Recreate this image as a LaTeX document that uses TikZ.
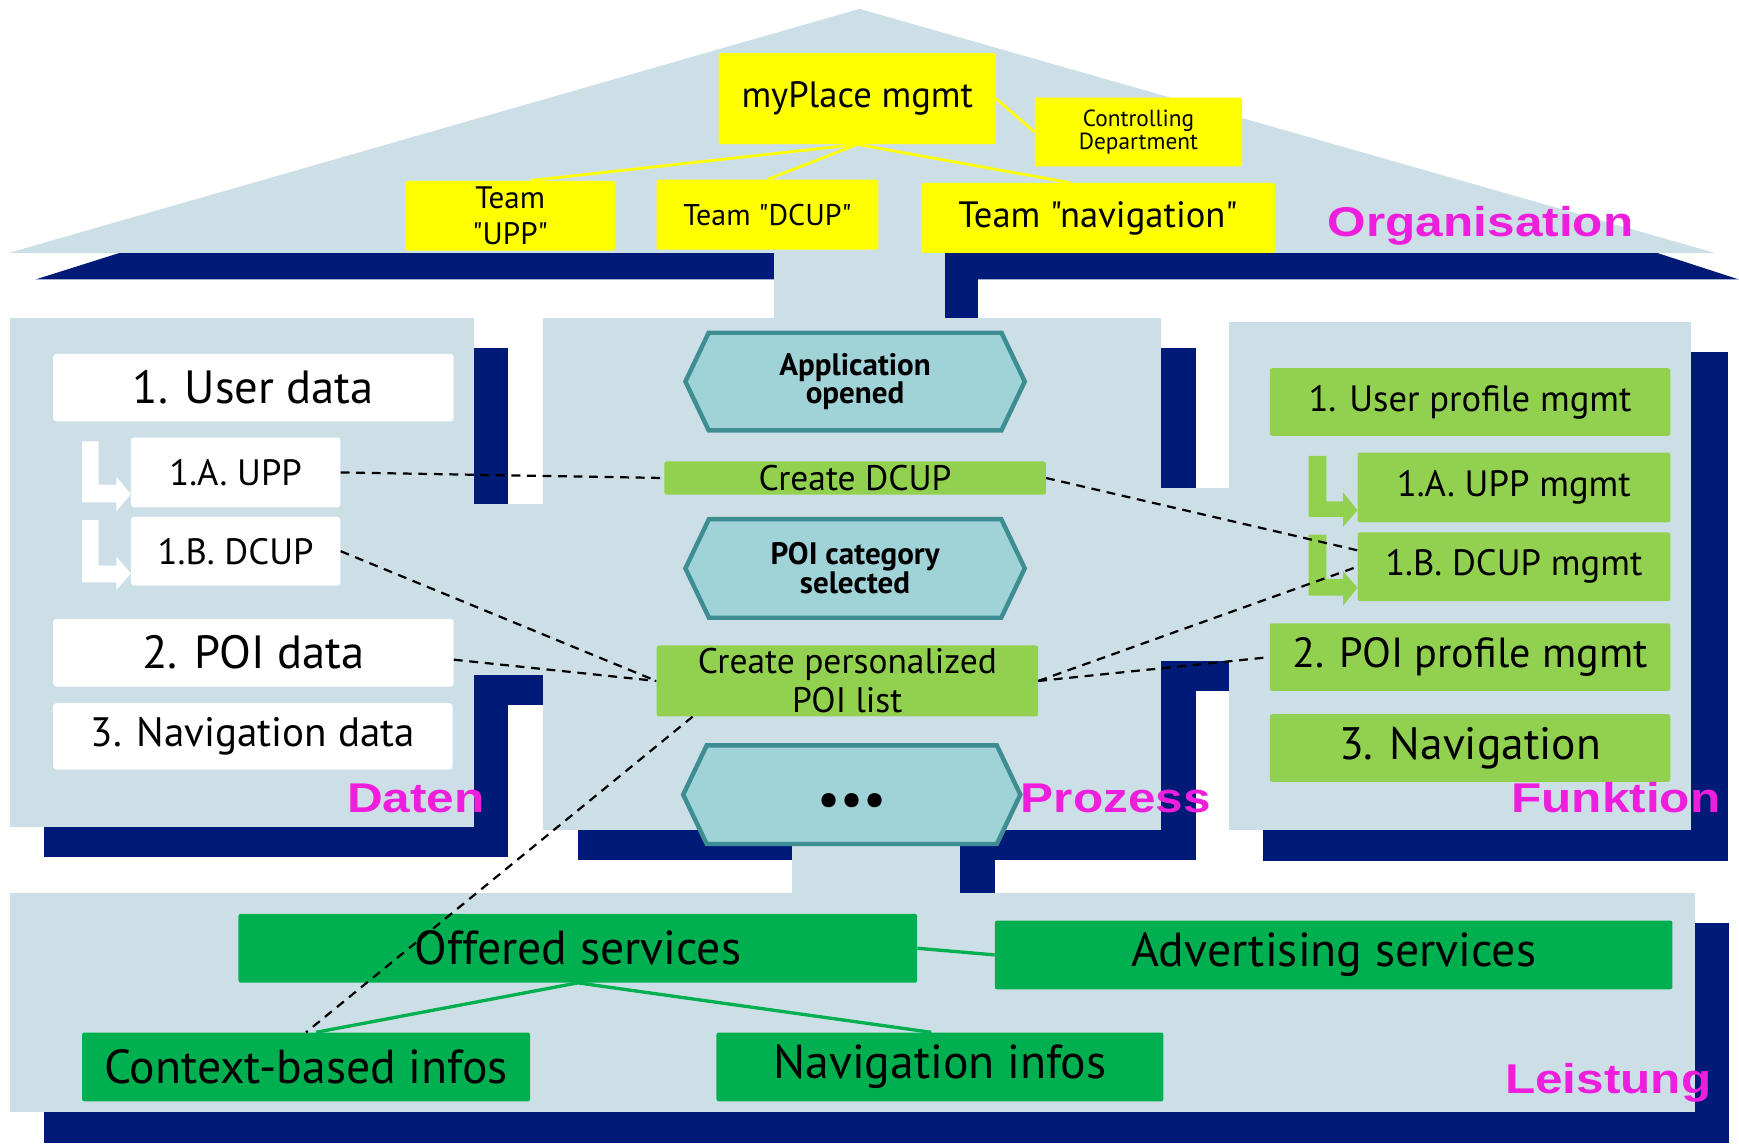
\documentclass[tikz,border=0pt]{standalone}
\usepackage{fontspec}
\usepackage{graphicx}
\setmainfont{PT Sans}[Ligatures=TeXOff]
\newfontfamily\layerfont{Liberation Sans}
\usetikzlibrary{shapes.symbols}

\definecolor{lblue}{RGB}{205,223,230}
\definecolor{navy}{RGB}{0,26,120}
\definecolor{yel}{RGB}{255,255,0}
\definecolor{lgreen}{RGB}{146,208,80}
\definecolor{dgreen}{RGB}{0,176,80}
\definecolor{tealfill}{RGB}{160,211,216}
\definecolor{tealline}{RGB}{62,141,146}
\definecolor{mag}{RGB}{238,30,220}

\newcommand{\fsz}[1]{\fontsize{#1}{1.15\dimexpr#1pt\relax}\selectfont}
\newcommand{\layername}[1]{\scalebox{1.19}[1]{\layerfont\bfseries #1}}

\tikzset{
  body/.style={fill=lblue},
  shade/.style={fill=navy},
  box/.style={inner sep=0pt, align=center, rounded corners=2pt},
  ybox/.style={box, fill=yel},
  wbox/.style={box, fill=white, rounded corners=3pt},
  lgbox/.style={box, fill=lgreen},
  dgbox/.style={box, fill=dgreen},
  event/.style={signal, signal to=east and west, signal pointer angle=129,
    fill=tealfill, draw=tealline, line width=4pt, inner sep=0pt, align=center,
    font=\bfseries\fontsize{28}{26}\selectfont},
  layer/.style={text=mag, inner sep=0pt, anchor=base, font=\fontsize{37.5}{40}\selectfont},
  orgline/.style={draw=yel, line width=2.5pt},
  srvline/.style={draw=dgreen, line width=3pt},
  link/.style={draw=black, line width=2pt, dash pattern=on 8pt off 6pt},
}

\begin{document}
\begin{tikzpicture}[x=1pt,y=-1pt]
\useasboundingbox[fill=white] (0,0) rectangle (1568,1033);

% ---- shadows of the building parts ----
\fill[shade] (32,252) -- (108,228) -- (1494,228) -- (1568,252) -- cycle;
\fill[shade] (729,240) rectangle (882,314);
\fill[shade] (40,314) rectangle (458,773);
\fill[shade] (458,481) rectangle (521,636);
\fill[shade] (521,314) rectangle (1078,775);
\fill[shade] (1078,467) rectangle (1139,623);
\fill[shade] (1139,317) rectangle (1558,776);
\fill[shade] (745,773) rectangle (897,833);
\fill[shade] (40,832) rectangle (1559,1031);

% ---- building parts ----
\fill[body] (8,228) -- (775,8) -- (1546,228) -- cycle;
\fill[body] (698,226) rectangle (852,288);
\fill[body] (9,287) rectangle (427,746);
\fill[body] (426,454) rectangle (491,609);
\fill[body] (490,287) rectangle (1047,748);
\fill[body] (1046,440) rectangle (1109,596);
\fill[body] (1108,290) rectangle (1525,748);
\fill[body] (714,747) rectangle (866,806);
\fill[body] (9,805) rectangle (1528,1003);

% ---- organisation ----
\node[ybox, minimum width=250pt, minimum height=82pt, font=\fsz{33}] (mgmt) at (773,89) {myPlace mgmt};
\node[ybox, minimum width=187pt, minimum height=62pt, font=\fontsize{21}{19}\selectfont] (ctrl) at (1026.5,119) {Controlling\\Department};
\node[ybox, minimum width=189pt, minimum height=63pt, font=\fontsize{28}{32}\selectfont] (tupp) at (460,194.5) {Team\\"UPP"};
\node[ybox, minimum width=200pt, minimum height=63pt, font=\fsz{27}] (tdcup) at (692,193.5) {Team "DCUP"};
\node[ybox, minimum width=319pt, minimum height=63pt, font=\fsz{33}] (tnav) at (990,196.5) {Team "navigation"};

\draw[orgline] (mgmt.south) -- (tupp.60);
\draw[orgline] (mgmt.south) -- (tdcup.north);
\draw[orgline] (mgmt.south) -- (tnav.128);
\draw[orgline] (mgmt.east) -- (ctrl.west);

% ---- data ----
\fill[white] (74,398) -- (89,398) -- (89,437) -- (105,437) -- (105,430) -- (118,445.5)
  -- (105,461) -- (105,453) -- (74,453) -- cycle;
\fill[white] (74,469) -- (89,469) -- (89,510) -- (105,510) -- (105,502) -- (118,517)
  -- (105,532) -- (105,525) -- (74,525) -- cycle;
\node[wbox, minimum width=361pt, minimum height=61pt, font=\fsz{42}] (udata) at (228.5,349.5) {1. User data};
\node[wbox, minimum width=189pt, minimum height=63pt, font=\fsz{33}] (upp) at (212.5,426) {1.A. UPP};
\node[wbox, minimum width=189pt, minimum height=62pt, font=\fsz{33}] (dcup) at (212.5,497) {1.B. DCUP};
\node[wbox, minimum width=361pt, minimum height=61pt, font=\fsz{42}] (poidata) at (228.5,588.5) {2. POI data};
\node[wbox, minimum width=360pt, minimum height=60pt, font=\fsz{37}] (navdata) at (228,664) {3. Navigation data};

% ---- function ----
\fill[lgreen] (1180,411) -- (1196,411) -- (1196,452) -- (1211,452) -- (1211,444) -- (1224,460)
  -- (1211,475) -- (1211,466) -- (1180,466) -- cycle;
\fill[lgreen] (1180,482) -- (1196,482) -- (1196,522) -- (1211,522) -- (1211,515) -- (1224,530)
  -- (1211,546) -- (1211,537) -- (1180,537) -- cycle;
\node[lgbox, minimum width=361pt, minimum height=61pt, font=\fsz{33}] (uprof) at (1325.5,362.5) {1. User profile mgmt};
\node[lgbox, minimum width=282pt, minimum height=63pt, font=\fsz{33}] (uppm) at (1365,439.5) {1.A. UPP mgmt};
\node[lgbox, minimum width=282pt, minimum height=62pt, font=\fsz{33}] (dcupm) at (1365,511) {1.B. DCUP mgmt};
\node[lgbox, minimum width=361pt, minimum height=61pt, font=\fsz{38}] (pprof) at (1325.5,592.5) {2. POI profile mgmt};
\node[lgbox, minimum width=361pt, minimum height=61pt, font=\fsz{41}] (navig) at (1325.5,674.5) {3. Navigation};

% ---- process ----
\node[event, minimum width=306pt, minimum height=88pt] (opened) at (771,344) {Application\\opened};
\node[lgbox, minimum width=344pt, minimum height=30pt, font=\fsz{32}] (cdcup) at (771,431) {Create DCUP};
\node[event, minimum width=306pt, minimum height=89pt] (poicat) at (771,512.5) {POI category\\selected};
\node[lgbox, minimum width=344pt, minimum height=64pt, font=\fontsize{32}{35}\selectfont] (cpoi) at (764,614) {Create personalized\\POI list};
\node[event, minimum width=304pt, minimum height=89pt, font=\fsz{46}] (more) at (768,716.5) {\raisebox{-20pt}[0pt][0pt]{•••}};

% ---- services ----
\node[dgbox, minimum width=612pt, minimum height=62pt, font=\fsz{43}] (offer) at (521,855) {Offered services};
\node[dgbox, minimum width=611pt, minimum height=62pt, font=\fsz{43}] (advert) at (1202.5,861) {Advertising services};
\node[dgbox, minimum width=404pt, minimum height=62pt, font=\fsz{43}] (ctx) at (276,962) {Context-based infos};
\node[dgbox, minimum width=403pt, minimum height=62pt, font=\fsz{43}] (navinfo) at (847.5,962) {Navigation infos};

\draw[srvline] (offer.south) -- (ctx.74);
\draw[srvline] (offer.south) -- (navinfo.104);
\draw[srvline] (offer.east) -- (advert.west);

% ---- cross references ----
\draw[link] (upp.east) -- (cdcup.west);
\draw[link] (cdcup.east) -- (dcupm.174);
\draw[link] (dcup.east) -- (cpoi.west);
\draw[link] (poidata.-2) -- (cpoi.west);
\draw[link] (cpoi.east) -- (dcupm.west);
\draw[link] (cpoi.east) -- (pprof.west);
\draw[link] (cpoi.193) -- (ctx.north);

% ---- layer names ----
\node[layer] (lorg) at (1335,213) {\layername{Organisation}};
\node[layer] (ldat) at (375,733) {\layername{Daten}};
\node[layer] (lpro) at (1006,733) {\layername{Prozess}};
\node[layer] (lfun) at (1457,733) {\layername{Funktion}};
\node[layer] (llei) at (1450,986) {\layername{Leistung}};
\end{tikzpicture}
\end{document}
